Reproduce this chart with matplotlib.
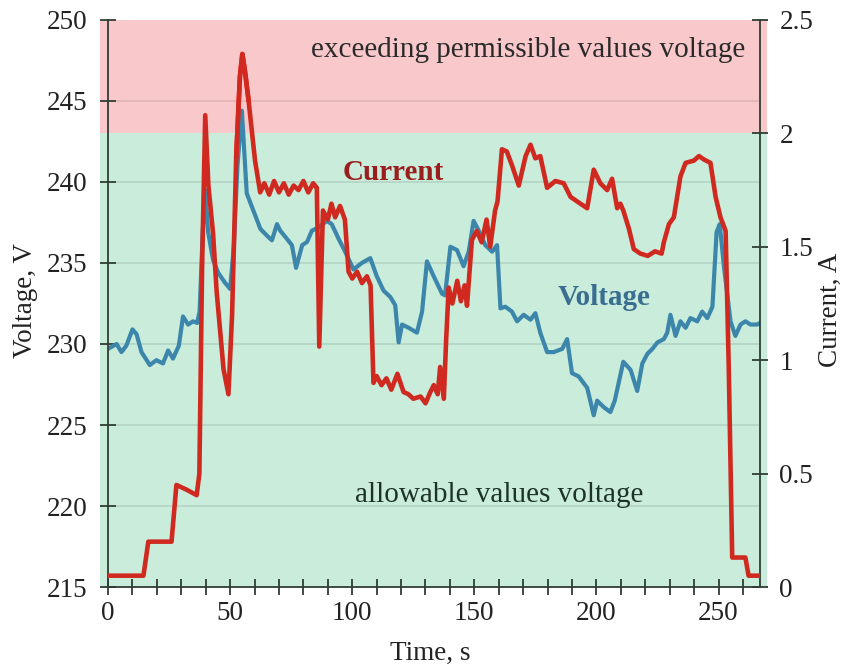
import matplotlib
matplotlib.use("Agg")
import matplotlib.pyplot as plt
from matplotlib.ticker import MultipleLocator, FormatStrFormatter

# voltage series (left axis)
t_volt = [0, 3.5, 5.5, 7.5, 10, 11.7, 13.7, 17.1, 19.8, 22.5, 24.6, 26.6, 29, 30.7,
          32.8, 34.8, 36.5, 37.5, 38.8, 39.8, 41, 43, 45.1, 47.8, 50, 51.5, 53, 54.8,
          56.8, 59.6, 62.4, 65, 67.1, 69.2, 70.5, 73.2, 75.3, 77, 79.5, 81.5, 83.5,
          86.3, 89.6, 91.6, 94.4, 97.1, 100.5, 103.9, 107.4, 110, 112.8, 115.6, 117.6,
          119, 120.4, 123.1, 126.5, 128.6, 130.6, 133.3, 136.8, 138, 140.2, 142.9,
          145.6, 147.7, 149.7, 151.8, 154.5, 157.3, 159.3, 160.7, 162.7, 165.4, 167.5,
          170.2, 173, 175, 177, 179.8, 182.5, 186, 188, 190, 192.7, 196.2, 198.9,
          200.3, 203, 205.7, 207.5, 211, 214, 216.7, 218.8, 220.9, 222.9, 225, 227.6,
          229, 230.3, 232.4, 234.4, 236.5, 238.5, 241.3, 243.3, 245.4, 247.5, 249.2,
          250.5, 252.2, 254.9, 256.9, 259, 261, 263.1, 265.8, 267]
voltage = [229.7, 230.0, 229.5, 229.9, 230.9, 230.6, 229.5, 228.7, 229.0, 228.8, 229.6,
           229.1, 229.9, 231.7, 231.2, 231.4, 231.3, 232.0, 237.0, 239.5, 236.9, 235.2,
           234.4, 233.8, 233.4, 236.0, 241.0, 244.4, 239.3, 238.2, 237.1, 236.7, 236.4,
           237.4, 237.0, 236.5, 236.1, 234.7, 236.1, 236.3, 237.0, 237.2, 237.6, 237.4,
           236.5, 235.7, 234.6, 235.0, 235.3, 234.2, 233.3, 232.9, 232.4, 230.1, 231.2,
           231.0, 230.7, 232.0, 235.1, 234.2, 233.1, 233.0, 236.0, 235.8, 234.8, 235.7,
           237.6, 237.0, 236.1, 235.7, 236.1, 232.2, 232.3, 232.0, 231.4, 231.8, 231.5,
           231.9, 230.7, 229.5, 229.5, 229.7, 230.3, 228.2, 228.0, 227.3, 225.6, 226.5,
           226.1, 225.8, 226.5, 228.9, 228.4, 227.1, 228.8, 229.4, 229.7, 230.1, 230.3,
           230.7, 231.8, 230.5, 231.4, 231.0, 231.6, 231.4, 232.0, 231.6, 232.3, 236.9,
           237.4, 234.8, 231.4, 230.5, 231.2, 231.4, 231.2, 231.2, 231.3]

# current series (right axis)
t_curr = [0, 14.5, 16.5, 26, 28, 32, 36.3, 37.4, 38.5, 39.8, 41.1, 43, 44.5, 47.3,
          49.3, 50.8, 52.5, 54, 55, 56, 57.5, 60.2, 62.3, 64, 66, 68, 70, 72, 74, 76,
          78, 80, 82, 84, 85.5, 86.5, 88, 90, 91.5, 93, 95, 97, 98.5, 100, 102, 104,
          106, 107.5, 108.7, 110, 112, 114, 116, 118.5, 121, 123, 125, 128, 130, 132,
          133.4, 135, 136, 137.5, 138.5, 139.5, 141, 143, 144.5, 146, 147, 149, 151,
          153, 155, 156.5, 158.5, 159.5, 161.3, 163.3, 165.4, 168.2, 171, 173, 175,
          177, 179.8, 183.2, 186.6, 189.4, 192.1, 196.2, 198.9, 201.6, 204.4, 206.4,
          208.5, 209.8, 211, 213.3, 215.3, 218, 221, 224, 226.7, 227.6, 229.7, 231.7,
          234.4, 236.5, 239.9, 242, 244, 246.7, 248.8, 250.8, 252.9, 254.2, 255.6, 261,
          262.3, 267]
current = [0.05, 0.05, 0.2, 0.2, 0.45, 0.43, 0.405, 0.5, 1.4, 2.08, 1.77, 1.56, 1.3,
           0.96, 0.85, 1.2, 1.9, 2.25, 2.35, 2.28, 2.15, 1.88, 1.74, 1.78, 1.73, 1.79,
           1.74, 1.78, 1.73, 1.77, 1.75, 1.79, 1.74, 1.78, 1.76, 1.06, 1.66, 1.62, 1.69,
           1.63, 1.68, 1.62, 1.39, 1.36, 1.39, 1.34, 1.37, 1.33, 0.9, 0.93, 0.89, 0.92,
           0.87, 0.94, 0.86, 0.85, 0.83, 0.84, 0.81, 0.86, 0.89, 0.85, 0.97, 0.83, 1.1,
           1.32, 1.25, 1.35, 1.26, 1.33, 1.24, 1.53, 1.57, 1.52, 1.62, 1.5, 1.66, 1.7,
           1.93, 1.92, 1.86, 1.77, 1.9, 1.95, 1.89, 1.9, 1.76, 1.79, 1.78, 1.72, 1.7,
           1.67, 1.84, 1.78, 1.75, 1.8, 1.67, 1.69, 1.66, 1.58, 1.49, 1.47, 1.46, 1.48,
           1.47, 1.52, 1.6, 1.63, 1.81, 1.87, 1.88, 1.9, 1.885, 1.87, 1.72, 1.63, 1.57,
           0.96, 0.13, 0.13, 0.05, 0.05]

v_limit = 243
serif = ["Liberation Serif", "DejaVu Serif"]
plt.rcParams["font.family"] = serif
axis_col = "#2f3d35"

fig = plt.figure(figsize=(8.46, 6.66), dpi=100)
ax = fig.add_axes([0.1277, 0.1186, 0.7707, 0.8514])

# background zones
ax.axhspan(v_limit, 250, xmin=-0.012, xmax=1.011, color="#f9c8ca", lw=0,
           clip_on=False, zorder=0)
ax.axhspan(215, v_limit, xmin=-0.012, xmax=1.011, color="#c9ecdb", lw=0,
           clip_on=False, zorder=0)
ax.patch.set_visible(False)
for v in range(220, 250, 5):
    ax.axhline(v, color="#000000", alpha=0.1, lw=1.2, zorder=0.5)

ax.plot(t_volt, voltage, color="#3b86aa", lw=3, zorder=2)
ax.set_xlim(0, 267)
ax.set_ylim(215, 250)
ax.yaxis.set_major_locator(MultipleLocator(5))
ax.xaxis.set_major_locator(MultipleLocator(50))
ax.xaxis.set_minor_locator(MultipleLocator(10))

ax2 = ax.twinx()
ax2.plot(t_curr, current, color="#d02a20", lw=3.3, zorder=3)
# bright red highlight of the peak
pk = [i for i, t in enumerate(t_curr) if 52 <= t <= 58]
ax2.plot([t_curr[i] for i in pk], [current[i] for i in pk], color="#ff1414", lw=3.3)
ax2.set_ylim(0, 2.5)
ax2.yaxis.set_major_locator(MultipleLocator(0.5))
ax2.yaxis.set_major_formatter(FormatStrFormatter("%g"))

for a in (ax, ax2):
    a.spines["top"].set_visible(False)
    for s in ("left", "right", "bottom"):
        a.spines[s].set_color(axis_col)
        a.spines[s].set_linewidth(1.3)
ax.spines["right"].set_visible(False)
ax2.spines["left"].set_visible(False)
ax2.spines["bottom"].set_visible(False)

ax.tick_params(axis="both", which="both", direction="inout", length=12, width=1.3,
               color=axis_col, labelsize=19.5, labelcolor="#222222")
ax.tick_params(axis="y", pad=9)
ax.tick_params(axis="x", pad=4)
ax2.tick_params(axis="y", direction="inout", length=12, width=1.3, color=axis_col,
                labelsize=19.5, labelcolor="#222222", pad=8)

ax.set_xlabel("Time, s", fontsize=19.5, color="#222222")
ax.set_ylabel("Voltage, V", fontsize=19.5, color="#222222")
ax.xaxis.set_label_coords(0.494, -0.095)
ax.yaxis.set_label_coords(-0.108, 0.506)
fig.text(0.982, 0.535, "Current, A", fontsize=19.5, color="#222222",
         rotation=90, ha="center", va="center")

ax.text(171.9, 248.15, "exceeding permissible values voltage", fontsize=21,
        ha="center", va="center", color="#2a2a2a", zorder=4)
ax.text(160.2, 220.7, "allowable values voltage", fontsize=21,
        ha="center", va="center", color="#1e3328", zorder=4)
ax.text(116.8, 240.6, "Current", fontsize=21, fontweight="bold",
        ha="center", va="center", color="#9b1e1e", zorder=4)
ax.text(203, 232.9, "Voltage", fontsize=21, fontweight="bold",
        ha="center", va="center", color="#3a6e90", zorder=4)

fig.savefig("out.png", dpi=100)
